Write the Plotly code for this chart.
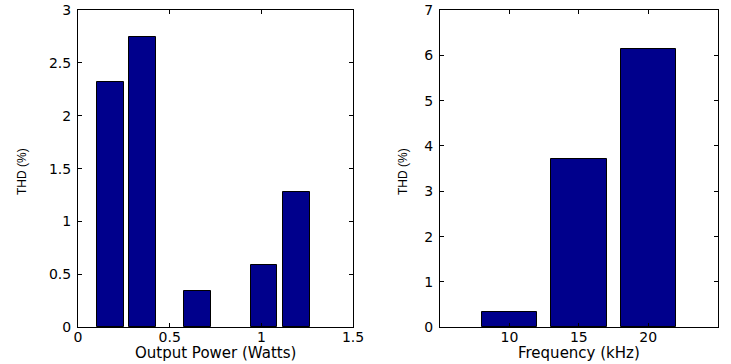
import plotly.graph_objects as go

# Left panel data
power_w = [0.178, 0.351, 0.653, 1.015, 1.192]
thd_power = [2.32, 2.745, 0.343, 0.589, 1.279]

# Right panel data
freq_khz = [10, 15, 20]
thd_freq = [0.344, 3.72, 6.15]

W, H = 731, 364
BAR = "rgb(0,0,140)"
TICKFONT = dict(family="DejaVu Sans", size=14, color="black")
TITLEFONT = dict(family="DejaVu Sans", size=15, color="black")
YTFONT = dict(family="Liberation Sans", size=12, color="black")

fig = go.Figure()
fig.add_trace(go.Bar(x=power_w, y=thd_power, width=0.146,
                     marker=dict(color=BAR, line=dict(color="black", width=1)),
                     xaxis="x", yaxis="y", showlegend=False))
fig.add_trace(go.Bar(x=freq_khz, y=thd_freq, width=4,
                     marker=dict(color=BAR, line=dict(color="black", width=1)),
                     xaxis="x2", yaxis="y2", showlegend=False))

ydom = [1 - 327.3 / H, 1 - 10 / H]
ax_common = dict(showline=True, linecolor="black", linewidth=1, mirror="ticks",
                 ticks="inside", ticklen=4, tickcolor="black", showgrid=False,
                 zeroline=False, tickfont=TICKFONT, automargin=False)

fig.update_layout(
    width=W, height=H, margin=dict(l=0, r=0, t=0, b=0),
    paper_bgcolor="white", plot_bgcolor="white", bargap=0,
    xaxis=dict(domain=[78 / W, 353 / W], range=[0, 1.5], tickvals=[0, 0.5, 1, 1.5],
               ticktext=["0", "0.5", "1", "1.5"], anchor="y",
               ticklabelstandoff=-3, **ax_common),
    yaxis=dict(domain=ydom, range=[0, 3], tickvals=[0, 0.5, 1, 1.5, 2, 2.5, 3],
               ticktext=["0", "0.5", "1", "1.5", "2", "2.5", "3"], anchor="x",
               ticklabelstandoff=3, **ax_common),
    xaxis2=dict(domain=[440 / W, 717.7 / W], range=[5, 25], tickvals=[10, 15, 20],
                ticktext=["10", "15", "20"], anchor="y2",
                ticklabelstandoff=-3, **ax_common),
    yaxis2=dict(domain=ydom, range=[0, 7], tickvals=list(range(8)),
                ticktext=[str(i) for i in range(8)], anchor="x2",
                ticklabelstandoff=3, **ax_common),
    annotations=[
        dict(text="Output Power (Watts)", x=215.5 / W, y=1 - 353 / H, xref="paper", yref="paper",
             showarrow=False, font=TITLEFONT, xanchor="center", yanchor="middle"),
        dict(text="Frequency (kHz)", x=579 / W, y=1 - 353 / H, xref="paper", yref="paper",
             showarrow=False, font=TITLEFONT, xanchor="center", yanchor="middle"),
        dict(text="THD (%)", x=22 / W, y=1 - 172 / H, xref="paper", yref="paper", textangle=-90,
             showarrow=False, font=YTFONT, xanchor="center", yanchor="middle"),
        dict(text="THD (%)", x=403 / W, y=1 - 172 / H, xref="paper", yref="paper", textangle=-90,
             showarrow=False, font=YTFONT, xanchor="center", yanchor="middle"),
    ],
)

fig.write_html("out.html", post_script="document.body.style.margin='0';",
               config={"displayModeBar": False})
